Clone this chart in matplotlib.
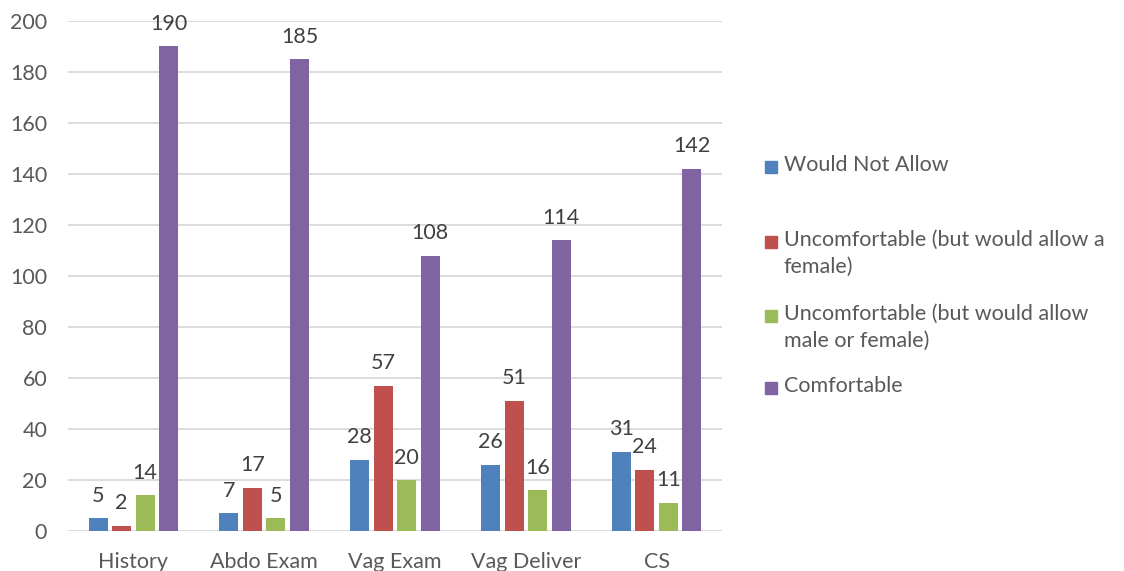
import matplotlib.pyplot as plt
import numpy as np
from matplotlib.patches import Rectangle

plt.rcParams["font.family"] = ["Lato", "DejaVu Sans"]

# ============================================================
# Data
# ============================================================

categories = ["History", "Abdo Exam", "Vag Exam", "Vag Deliver", "CS"]
series_names = [
    "Would Not Allow",
    "Uncomfortable (but would allow a\nfemale)",
    "Uncomfortable (but would allow\nmale or female)",
    "Comfortable",
]
would_not_allow = [5, 7, 28, 26, 31]
uncomf_female = [2, 17, 57, 51, 24]
uncomf_any = [14, 5, 20, 16, 11]
comfortable = [190, 185, 108, 114, 142]

colors = ["#4F81BD", "#C0504D", "#9BBB59", "#8064A2"]
text_color = "#595959"
fs = 15.5

# ============================================================
# Plot
# ============================================================

fig = plt.figure(figsize=(11.24, 5.71), dpi=100)
ax = fig.add_axes([68 / 1124, 1 - 531 / 571, (722 - 68) / 1124, (531 - 21) / 571])

x = np.arange(len(categories))
bar_w = 0.145
stride = 0.18
all_series = [would_not_allow, uncomf_female, uncomf_any, comfortable]

for i, vals in enumerate(all_series):
    pos = x + (i - 1.5) * stride
    bars = ax.bar(pos, vals, width=bar_w, color=colors[i], zorder=3)
    for b, v in zip(bars, vals):
        ax.annotate(
            str(v),
            (b.get_x() + b.get_width() / 2, v),
            textcoords="offset points",
            xytext=(0, 9),
            ha="center",
            va="bottom",
            fontsize=fs,
            color="#404040",
        )

ax.set_xlim(-0.5, len(categories) - 0.5)
ax.set_ylim(0, 200)
ax.set_yticks(range(0, 201, 20))
ax.set_xticks(x)
ax.set_xticklabels(categories)
ax.tick_params(axis="both", length=0, labelsize=fs, labelcolor=text_color)
ax.tick_params(axis="x", pad=15)
ax.tick_params(axis="y", pad=15)
ax.grid(axis="y", color="#D9D9D9", linewidth=1.3, zorder=0)
for s in ax.spines.values():
    s.set_visible(False)

# Legend drawn by hand, Excel-style
legend_y = [167, 242, 316, 388]
for i, name in enumerate(series_names):
    yc = 1 - legend_y[i] / 571
    fig.patches.append(
        Rectangle((765 / 1124, yc - 6 / 571), 12 / 1124, 12 / 571,
                  transform=fig.transFigure, color=colors[i])
    )
    fig.text(784 / 1124, yc + 12 / 571, name, fontsize=fs, color=text_color,
             va="top", ha="left", linespacing=1.42)

fig.savefig("out.png", dpi=100)
